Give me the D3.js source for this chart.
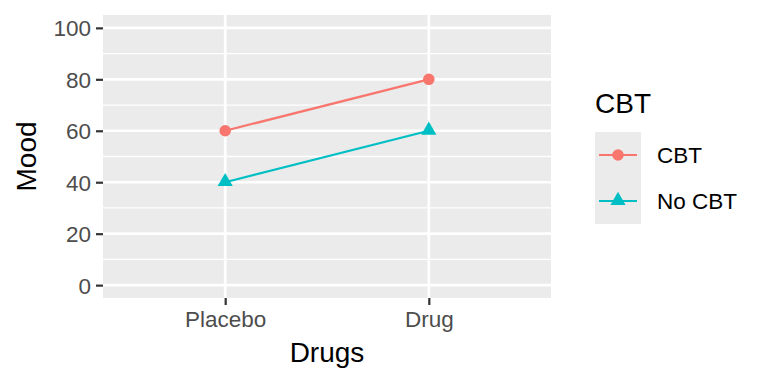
<!DOCTYPE html>
<html>
<head>
<meta charset="utf-8">
<script src="https://cdn.jsdelivr.net/npm/d3@7"></script>
<style>
  html, body { margin: 0; padding: 0; background: #fff; }
  svg { display: block; font-family: "Liberation Sans", Arial, sans-serif; }
</style>
</head>
<body>
<svg id="chart" width="768" height="384"></svg>
<script>
// ---- data ----
const drugs = ["Placebo", "Drug"];
const groups = ["CBT", "No CBT"];
const moodCBT = [60, 80];
const moodNoCBT = [40, 60];
const yTicks = [0, 20, 40, 60, 80, 100];
const yMinor = [10, 30, 50, 70, 90];
const colors = ["#F8766D", "#00BFC4"];

const series = [
  { name: groups[0], values: moodCBT, color: colors[0], shape: "circle" },
  { name: groups[1], values: moodNoCBT, color: colors[1], shape: "triangle" }
];

// ---- layout ----
const svg = d3.select("#chart");
const panel = { left: 103, right: 551, top: 15, bottom: 298 };

const x = d3.scalePoint().domain(drugs).range([panel.left, panel.right]).padding(0.6);
const y = d3.scaleLinear().domain([-5, 105]).range([panel.bottom, panel.top]);

// panel background
svg.append("rect")
  .attr("x", panel.left).attr("y", panel.top)
  .attr("width", panel.right - panel.left).attr("height", panel.bottom - panel.top)
  .attr("fill", "#EBEBEB");

// minor grid
svg.append("g").selectAll("line").data(yMinor).join("line")
  .attr("x1", panel.left).attr("x2", panel.right)
  .attr("y1", d => y(d)).attr("y2", d => y(d))
  .attr("stroke", "#fff").attr("stroke-width", 1.3);

// major grid
svg.append("g").selectAll("line").data(yTicks).join("line")
  .attr("x1", panel.left).attr("x2", panel.right)
  .attr("y1", d => y(d)).attr("y2", d => y(d))
  .attr("stroke", "#fff").attr("stroke-width", 2.7);
svg.append("g").selectAll("line").data(drugs).join("line")
  .attr("x1", d => x(d)).attr("x2", d => x(d))
  .attr("y1", panel.top).attr("y2", panel.bottom)
  .attr("stroke", "#fff").attr("stroke-width", 2.7);

// axes
const yAxis = svg.append("g")
  .attr("transform", `translate(${panel.left},0)`)
  .call(d3.axisLeft(y).tickValues(yTicks).tickSize(7).tickPadding(5));
const xAxis = svg.append("g")
  .attr("transform", `translate(0,${panel.bottom})`)
  .call(d3.axisBottom(x).tickSize(7).tickPadding(5));
[yAxis, xAxis].forEach(a => {
  a.select(".domain").remove();
  a.selectAll(".tick line").attr("stroke", "#333").attr("stroke-width", 2.2);
  a.selectAll(".tick text").attr("fill", "#4D4D4D")
    .style("font-size", "22.5px").style("font-family", "Liberation Sans, Arial, sans-serif");
});
yAxis.selectAll(".tick text").attr("dy", "0.35em");
xAxis.selectAll(".tick text").attr("dy", "0.76em");

// lines and points
const symFor = s => d3.symbol()
  .type(s.shape === "circle" ? d3.symbolCircle : d3.symbolTriangle)
  .size(s.shape === "circle" ? 105 : 100);
const line = d3.line().x((d, i) => x(drugs[i])).y(d => y(d));
series.forEach(s => {
  svg.append("path").datum(s.values)
    .attr("d", line).attr("fill", "none")
    .attr("stroke", s.color).attr("stroke-width", 2.2);
  svg.append("g").selectAll("path").data(s.values).join("path")
    .attr("transform", (d, i) => `translate(${x(drugs[i])},${y(d) + (s.shape === "triangle" ? -0.5 : 0)})`)
    .attr("d", symFor(s)).attr("fill", s.color);
});

// axis titles
svg.append("text")
  .attr("x", (panel.left + panel.right) / 2).attr("y", 362)
  .attr("text-anchor", "middle").style("font-size", "28px").attr("fill", "#000")
  .text("Drugs");
svg.append("text")
  .attr("transform", `translate(36,${(panel.top + panel.bottom) / 2}) rotate(-90)`)
  .attr("text-anchor", "middle").style("font-size", "28px").attr("fill", "#000")
  .text("Mood");

// legend
const lg = svg.append("g");
lg.append("text").attr("x", 595).attr("y", 113)
  .style("font-size", "28px").attr("fill", "#000").text("CBT");
const keyH = 46, keyTop = 132, keyLeft = 595, keyW = 46;
series.forEach((s, i) => {
  const cy = keyTop + keyH * i + keyH / 2;
  lg.append("rect").attr("x", keyLeft).attr("y", keyTop + keyH * i)
    .attr("width", keyW).attr("height", keyH).attr("fill", "#EBEBEB");
  lg.append("line").attr("x1", keyLeft + 4).attr("x2", keyLeft + keyW - 4)
    .attr("y1", cy).attr("y2", cy).attr("stroke", s.color).attr("stroke-width", 2.2);
  lg.append("path").attr("transform", `translate(${keyLeft + keyW / 2},${cy + (s.shape === "triangle" ? -0.5 : 0)})`)
    .attr("d", symFor(s)).attr("fill", s.color);
  lg.append("text").attr("x", 657).attr("y", cy).attr("dy", "0.35em")
    .style("font-size", "22.5px").attr("fill", "#000").text(s.name);
});
</script>
</body>
</html>
